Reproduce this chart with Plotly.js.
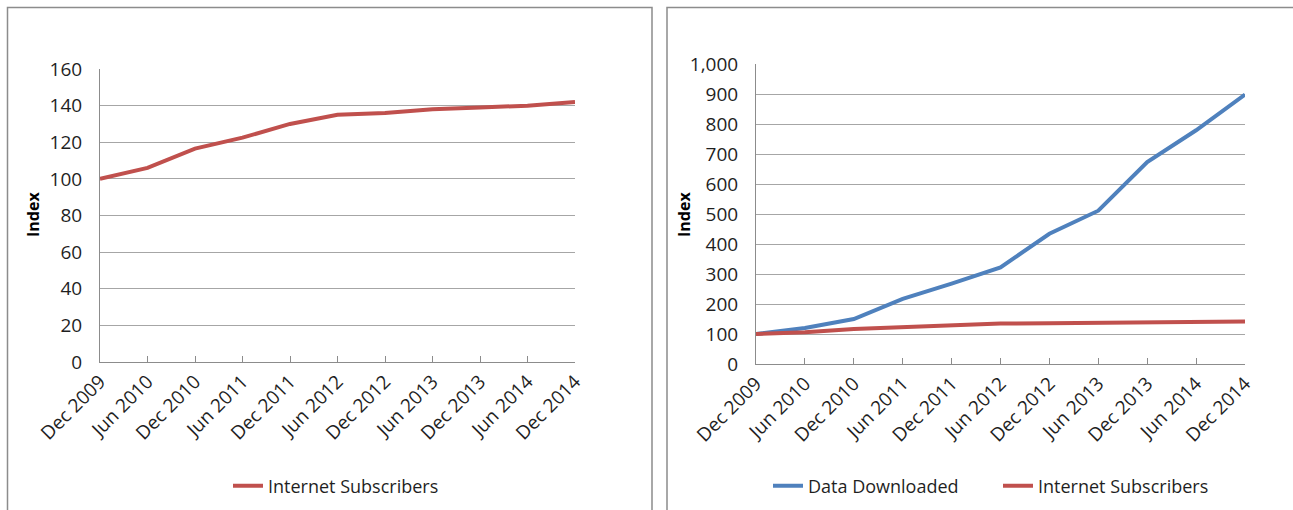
<!DOCTYPE html>
<html>
<head>
<meta charset="utf-8">
<script src="https://cdn.plot.ly/plotly-3.0.1.min.js"></script>
<style>
  html, body { margin: 0; padding: 0; background: #ffffff; }
  #chart { width: 1293px; height: 510px; }
</style>
</head>
<body>
<div id="chart"></div>
<script>
// Half-year periods shared by both panels
const periods = ['Dec 2009', 'Jun 2010', 'Dec 2010', 'Jun 2011', 'Dec 2011', 'Jun 2012',
                 'Dec 2012', 'Jun 2013', 'Dec 2013', 'Jun 2014', 'Dec 2014'];

// Index values (Dec 2009 = 100)
const internetSubscribers = [100, 106, 116.5, 122.5, 130, 135, 136, 138, 139, 140, 142];
const dataDownloaded      = [100, 120, 150, 217, 268, 322, 434, 511, 673, 779, 898];

const leftTicks  = [0, 20, 40, 60, 80, 100, 120, 140, 160];
const rightTicks = [0, 100, 200, 300, 400, 500, 600, 700, 800, 900, 1000];

const W = 1293, H = 510;
const px = v => v / W;          // horizontal pixel -> paper
const py = v => 1 - v / H;      // vertical pixel -> paper

const RED = '#C0504D';
const BLUE = '#4F81BD';
const FONT = 'Open Sans, DejaVu Sans, sans-serif';
const TEXT = '#1f1f1f';

const traces = [
  {
    x: periods, y: internetSubscribers, type: 'scatter', mode: 'lines',
    name: 'Internet Subscribers', xaxis: 'x', yaxis: 'y', legend: 'legend',
    line: { color: RED, width: 4 }
  },
  {
    x: periods, y: dataDownloaded, type: 'scatter', mode: 'lines',
    name: 'Data Downloaded', xaxis: 'x2', yaxis: 'y2', legend: 'legend2',
    line: { color: BLUE, width: 4 }
  },
  {
    x: periods, y: internetSubscribers, type: 'scatter', mode: 'lines',
    name: 'Internet Subscribers', xaxis: 'x2', yaxis: 'y2', legend: 'legend2',
    line: { color: RED, width: 4 }
  }
];

const xCommon = {
  type: 'category',
  range: [0, periods.length - 1],
  tickangle: -45,
  ticks: 'inside',
  ticklen: 6,
  tickcolor: '#8c8c8c',
  tickwidth: 1,
  showline: true,
  linecolor: '#8c8c8c',
  linewidth: 1,
  showgrid: false,
  zeroline: false,
  tickfont: { family: FONT, size: 19, color: TEXT },
  fixedrange: true
};

const yCommon = {
  showline: true,
  linecolor: '#8c8c8c',
  linewidth: 1,
  showgrid: true,
  gridcolor: '#a6a6a6',
  gridwidth: 1,
  zeroline: false,
  ticks: '',
  ticklabelstandoff: 13,
  tickfont: { family: FONT, size: 19, color: TEXT },
  fixedrange: true
};

const layout = {
  width: W, height: H,
  margin: { l: 0, r: 0, t: 0, b: 0 },
  paper_bgcolor: '#ffffff',
  plot_bgcolor: '#ffffff',
  showlegend: true,
  xaxis: Object.assign({}, xCommon, {
    domain: [px(100), px(575)], anchor: 'y'
  }),
  yaxis: Object.assign({}, yCommon, {
    domain: [py(362), py(69)], anchor: 'x',
    range: [0, 160], tickvals: leftTicks
  }),
  xaxis2: Object.assign({}, xCommon, {
    domain: [px(756), px(1245)], anchor: 'y2'
  }),
  yaxis2: Object.assign({}, yCommon, {
    domain: [py(364), py(64)], anchor: 'x2',
    range: [0, 1000], tickvals: rightTicks, tickformat: ',d'
  }),
  legend: {
    orientation: 'h', x: px(336), xanchor: 'center', y: py(486), yanchor: 'middle',
    font: { family: FONT, size: 18, color: TEXT }, bgcolor: 'rgba(0,0,0,0)'
  },
  legend2: {
    orientation: 'h', x: px(768), xanchor: 'left', y: py(486), yanchor: 'middle',
    font: { family: FONT, size: 18, color: TEXT }, bgcolor: 'rgba(0,0,0,0)',
    entrywidth: 185, entrywidthmode: 'pixels',
    traceorder: 'normal'
  },
  annotations: [
    { text: '<b>Index</b>', x: px(33), y: py(215), xref: 'paper', yref: 'paper',
      textangle: -90, showarrow: false, xanchor: 'center', yanchor: 'middle',
      font: { family: FONT, size: 16, color: '#000000' } },
    { text: '<b>Index</b>', x: px(684), y: py(215), xref: 'paper', yref: 'paper',
      textangle: -90, showarrow: false, xanchor: 'center', yanchor: 'middle',
      font: { family: FONT, size: 16, color: '#000000' } }
  ],
  shapes: [
    // chart-area frames
    { type: 'rect', xref: 'paper', yref: 'paper', layer: 'below',
      x0: px(7.5), x1: px(652), y0: py(530), y1: py(7.5),
      line: { color: '#8c8c8c', width: 1.5 }, fillcolor: 'rgba(0,0,0,0)' },
    { type: 'rect', xref: 'paper', yref: 'paper', layer: 'below',
      x0: px(667), x1: px(1320), y0: py(530), y1: py(7.5),
      line: { color: '#8c8c8c', width: 1.5 }, fillcolor: 'rgba(0,0,0,0)' }
  ]
};

Plotly.newPlot('chart', traces, layout, { staticPlot: true, displayModeBar: false });
</script>
</body>
</html>
